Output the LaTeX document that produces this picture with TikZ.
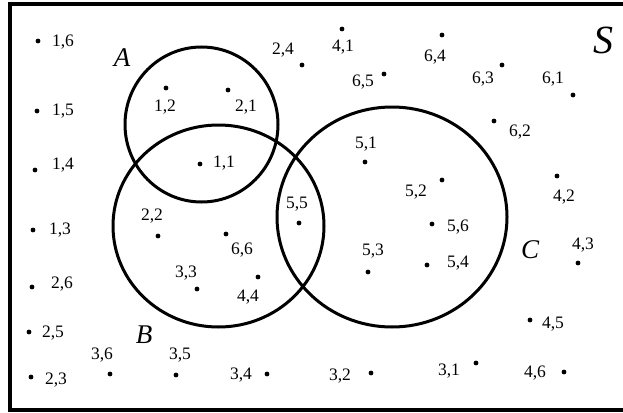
\documentclass[tikz,border=0pt]{standalone}
\usepackage{fontspec}
\setmainfont{Liberation Serif}
\usetikzlibrary{shapes.geometric}
\begin{document}
\begin{tikzpicture}[x=1pt,y=-1pt,
  pt/.style={circle,fill=black,inner sep=0pt,minimum size=4.8pt},
  lbl/.style={inner sep=0pt,font=\fontsize{17.5}{17.5}\selectfont,text depth=0pt},
  setname/.style={inner sep=0pt,font=\fontsize{27}{27}\selectfont\itshape},
  setline/.style={draw,ellipse,line width=3pt,inner sep=0pt}]
\clip (0,0) rectangle (623,412);
\fill[white] (0,0) rectangle (623,412);
\draw[line width=3.5pt] (10,4) rectangle (660,410);
% sets
\node (cA) [setline,minimum width=153pt,minimum height=155pt] at (201.5,124.5) {};
\node (cB) [setline,minimum width=211pt,minimum height=202pt] at (218.5,226) {};
\node (cC) [setline,minimum width=230pt,minimum height=220pt] at (392,217) {};
\node (nA) [setname] at (122,58) {A};
\node (nB) [setname] at (144,335) {B};
\node (nC) [setname] at (530,250) {C};
\node (nS) [inner sep=0pt,font=\fontsize{40}{40}\selectfont\itshape] at (603,40) {S};
% points
\node (p11) [pt] at (200,164) {}; \node (l11) [lbl] at (224,162) {1,1};
\node (p12) [pt] at (166,88) {};  \node (l12) [lbl] at (165,106) {1,2};
\node (p21) [pt] at (228,90) {};  \node (l21) [lbl] at (246,106) {2,1};
\node (p16) [pt] at (38,41) {};   \node (l16) [lbl] at (63,41) {1,6};
\node (p15) [pt] at (37,111) {};  \node (l15) [lbl] at (63,110) {1,5};
\node (p14) [pt] at (35,170) {};  \node (l14) [lbl] at (63,164) {1,4};
\node (p13) [pt] at (33,230) {};  \node (l13) [lbl] at (60,229) {1,3};
\node (p26) [pt] at (32,287) {};  \node (l26) [lbl] at (62,283) {2,6};
\node (p25) [pt] at (29,332) {};  \node (l25) [lbl] at (53,332) {2,5};
\node (p23) [pt] at (31,377) {};  \node (l23) [lbl] at (56,379) {2,3};
\node (p24) [pt] at (302,65) {};  \node (l24) [lbl] at (283,49) {2,4};
\node (p41) [pt] at (342,29) {};  \node (l41) [lbl] at (343,46) {4,1};
\node (p64) [pt] at (442,35) {};  \node (l64) [lbl] at (435,56) {6,4};
\node (p65) [pt] at (384,74) {};  \node (l65) [lbl] at (363,81) {6,5};
\node (p63) [pt] at (502,65) {};  \node (l63) [lbl] at (483,78) {6,3};
\node (p61) [pt] at (573,95) {};  \node (l61) [lbl] at (553,78) {6,1};
\node (p62) [pt] at (494,121) {}; \node (l62) [lbl] at (520,131) {6,2};
\node (p51) [pt] at (365,162) {}; \node (l51) [lbl] at (366,143) {5,1};
\node (p52) [pt] at (442,180) {}; \node (l52) [lbl] at (416,191) {5,2};
\node (p42) [pt] at (557,176) {}; \node (l42) [lbl] at (564,196) {4,2};
\node (p22) [pt] at (158,236) {}; \node (l22) [lbl] at (152,215) {2,2};
\node (p66) [pt] at (226,234) {}; \node (l66) [lbl] at (242,249) {6,6};
\node (p33) [pt] at (197,289) {}; \node (l33) [lbl] at (186,272) {3,3};
\node (p44) [pt] at (258,277) {}; \node (l44) [lbl] at (248,296) {4,4};
\node (p55) [pt] at (299,223) {}; \node (l55) [lbl] at (297,203) {5,5};
\node (p36) [pt] at (110,374) {}; \node (l36) [lbl] at (102,354) {3,6};
\node (p35) [pt] at (176,375) {}; \node (l35) [lbl] at (180,354) {3,5};
\node (p34) [pt] at (267,374) {}; \node (l34) [lbl] at (241,374) {3,4};
\node (p56) [pt] at (432,224) {}; \node (l56) [lbl] at (458,226) {5,6};
\node (p53) [pt] at (368,272) {}; \node (l53) [lbl] at (373,250) {5,3};
\node (p54) [pt] at (427,265) {}; \node (l54) [lbl] at (458,262) {5,4};
\node (p43) [pt] at (578,263) {}; \node (l43) [lbl] at (583,244) {4,3};
\node (p45) [pt] at (530,320) {}; \node (l45) [lbl] at (553,323) {4,5};
\node (p32) [pt] at (371,373) {}; \node (l32) [lbl] at (340,375) {3,2};
\node (p31) [pt] at (476,363) {}; \node (l31) [lbl] at (449,370) {3,1};
\node (p46) [pt] at (564,372) {}; \node (l46) [lbl] at (535,372) {4,6};
\end{tikzpicture}
\end{document}
